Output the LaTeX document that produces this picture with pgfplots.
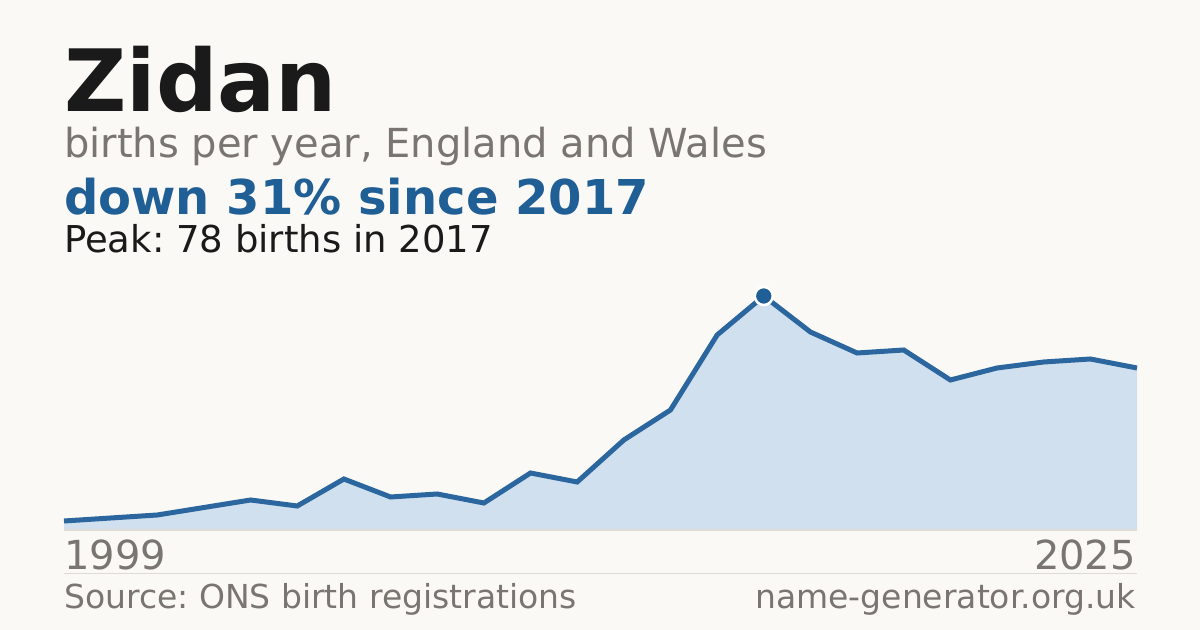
\documentclass[border=0pt]{standalone}
\usepackage{pgfplots}
\pgfplotsset{compat=1.18}
\usepackage{fontspec}
\setmainfont{DejaVu Sans}
\frenchspacing
\definecolor{bg}{HTML}{FAF9F5}
\definecolor{ink}{HTML}{1A1A1A}
\definecolor{muted}{HTML}{7A7570}
\definecolor{accent}{HTML}{1F5F96}
\definecolor{linec}{HTML}{2B679E}
\definecolor{areafill}{HTML}{D0E0EF}
\definecolor{rule}{HTML}{DDDBD6}

% births per year (x = position of each point along the axis, 1999 ... 2025)
\pgfplotstableread{
idx births
0  3
2  5
4  10
5  8
6  17
7  11
8  12
9  9
10 19
11 16
12 30
13 40
14 65
15 78
16 66
17 59
18 60
19 50
20 54
21 56
22 57
23 54
}\births

\begin{document}
\begin{tikzpicture}[x=1bp,y=1bp]
\fill[bg] (0,0) rectangle (1200,630);

\node[anchor=base west,inner sep=0,text=ink] at (64,518)
  {\fontsize{86bp}{90bp}\selectfont\bfseries Zidan};
\node[anchor=base west,inner sep=0,text=muted] at (64,472)
  {\fontsize{40bp}{44bp}\selectfont births per year, England and Wales};
\node[anchor=base west,inner sep=0,text=accent] at (64,415)
  {\fontsize{48bp}{52bp}\selectfont\bfseries down 31\% since 2017};
\node[anchor=base west,inner sep=0,text=ink] at (64,377)
  {\fontsize{37bp}{40bp}\selectfont Peak: 78 births in 2017};

\begin{axis}[
    at={(64bp,100bp)}, anchor=south west,
    width=1073bp, height=234bp, scale only axis,
    xmin=0, xmax=23, ymin=0, ymax=78,
    hide axis, clip=false,
]
\addplot[fill=areafill, draw=none] table[x=idx,y=births] {\births} \closedcycle;
\draw[rule, line width=1.2bp] (axis cs:0,0) -- (axis cs:23,0);
\addplot[linec, line width=5bp, line join=miter, mark=none] table[x=idx,y=births] {\births};
\addplot[only marks, mark=*, mark size=9bp,
         mark options={fill=accent, draw=white, line width=2.5bp}]
  coordinates {(15,78)};
\end{axis}

\node[anchor=base west,inner sep=0,text=muted] at (64,60)
  {\fontsize{40bp}{44bp}\selectfont 1999};
\node[anchor=base east,inner sep=0,text=muted] at (1136,60)
  {\fontsize{40bp}{44bp}\selectfont 2025};
\draw[rule, line width=1bp] (64,56) -- (1137,56);
\node[anchor=base west,inner sep=0,text=muted] at (64,21)
  {\fontsize{33bp}{36bp}\selectfont Source: ONS birth registrations};
\node[anchor=base east,inner sep=0,text=muted] at (1136,21)
  {\fontsize{33bp}{36bp}\selectfont name-generator.org.uk};

\pgfresetboundingbox
\useasboundingbox (0,0) rectangle (1200,630);
\end{tikzpicture}
\end{document}
